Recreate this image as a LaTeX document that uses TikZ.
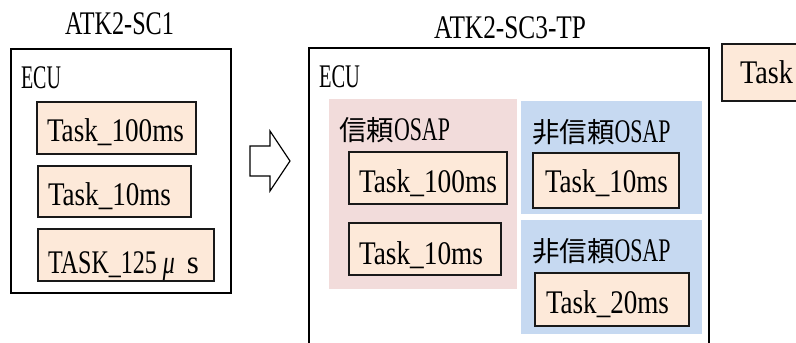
\documentclass[tikz,border=0pt]{standalone}
\usepackage{fontspec}
\usepackage{graphicx}
\setmainfont{Liberation Serif}
\newfontfamily\cjkface{Noto Sans CJK JP}[Scale=1]
\definecolor{taskfill}{HTML}{FDE9D9}
\definecolor{trustfill}{HTML}{F2DCDB}
\definecolor{untrustfill}{HTML}{C6D9F1}
\tikzset{
  x=1pt,y=-1pt,
  framebox/.style={draw=black,line width=1.4pt,fill=white},
  taskbox/.style={draw=black!90,line width=1.3pt,fill=taskfill},
  trustbox/.style={fill=trustfill},
  untrustbox/.style={fill=untrustfill},
  txt/.style={anchor=base west,inner sep=0pt,outer sep=0pt,text=black,font=\fontsize{33pt}{35pt}\selectfont},
  blockarrow/.style={draw=black,line width=1.2pt,fill=white,line join=miter}
}
% \bx{style}{name}{x1}{y1}{x2}{y2}
\newcommand{\bx}[6]{%
  \pgfmathsetmacro{\bxw}{#5-#3}\pgfmathsetmacro{\bxh}{#6-#4}%
  \pgfmathsetmacro{\bxx}{(#3+#5)/2}\pgfmathsetmacro{\bxy}{(#4+#6)/2}%
  \node[#1,inner sep=0pt,outer sep=0pt,minimum width=\bxw pt,minimum height=\bxh pt] (#2) at (\bxx,\bxy) {};}
% \tx{name}{x}{baseline}{width}{text}
\newcommand{\tx}[5]{\node[txt] (#1) at (#2,#3) {\resizebox{#4pt}{\height}{#5}};}
\newcommand{\kj}[1]{{\cjkface\fontsize{27.5pt}{30pt}\selectfont #1}}
\begin{document}
\begin{tikzpicture}
\useasboundingbox (0,0) rectangle (796,343);
\clip (0,0) rectangle (796,343);
\fill[white] (0,0) rectangle (796,343);
% left
\tx{titleA}{65}{34}{109}{ATK2-SC1}
\bx{framebox}{ecuA}{11}{49}{231}{293}
\tx{ecuAt}{21}{88}{40}{ECU}
\bx{taskbox}{a1}{37}{102}{196}{154}
\tx{a1t}{47}{141}{137}{Task\_100ms}
\bx{taskbox}{a2}{38}{166}{191}{217}
\tx{a2t}{48}{205}{123}{Task\_10ms}
\bx{taskbox,line width=1.7pt}{a3}{38}{229}{214}{281}
\node[txt] (a3t) at (48,273) {\resizebox{109pt}{\height}{TASK\_125}\hspace{6pt}\resizebox{12pt}{\height}{\textit{μ}}\hspace{12pt}\resizebox{12pt}{\height}{s}};
% arrow
\draw[blockarrow] (250,146) -- (270,146) -- (270,131) -- (290,161) -- (270,191) -- (270,176) -- (250,176) -- cycle;
% right
\tx{titleB}{434}{38}{152}{ATK2-SC3-TP}
\bx{framebox}{ecuB}{309}{48}{709}{360}
\tx{ecuBt}{319}{87}{41}{ECU}
\bx{trustbox}{trust}{329}{99}{517}{289}
\bx{untrustbox}{un1}{521}{101}{702}{214}
\bx{untrustbox}{un2}{521}{220}{702}{334}
\node[txt] (trustt) at (339,140) {\kj{信頼}\resizebox{56pt}{\height}{OSAP}};
\node[txt] (un1t) at (532,142) {\kj{非信頼}\resizebox{56pt}{\height}{OSAP}};
\node[txt] (un2t) at (532,261) {\kj{非信頼}\resizebox{56pt}{\height}{OSAP}};
\bx{taskbox}{b1}{349}{152}{507}{204}
\tx{b1t}{359}{192}{138}{Task\_100ms}
\bx{taskbox}{b2}{349}{223}{501}{275}
\tx{b2t}{359}{264}{124}{Task\_10ms}
\bx{taskbox,line width=1.6pt}{c1}{533}{153}{679}{208}
\tx{c1t}{545}{192}{123}{Task\_10ms}
\bx{taskbox,line width=1.6pt}{c2}{535}{273}{689}{326}
\tx{c2t}{546}{313}{123}{Task\_20ms}
% cut-off box
\bx{taskbox,line width=1.5pt}{d}{722}{44}{900}{101}
\tx{dt}{740}{83}{53}{Task}
\end{tikzpicture}
\end{document}
